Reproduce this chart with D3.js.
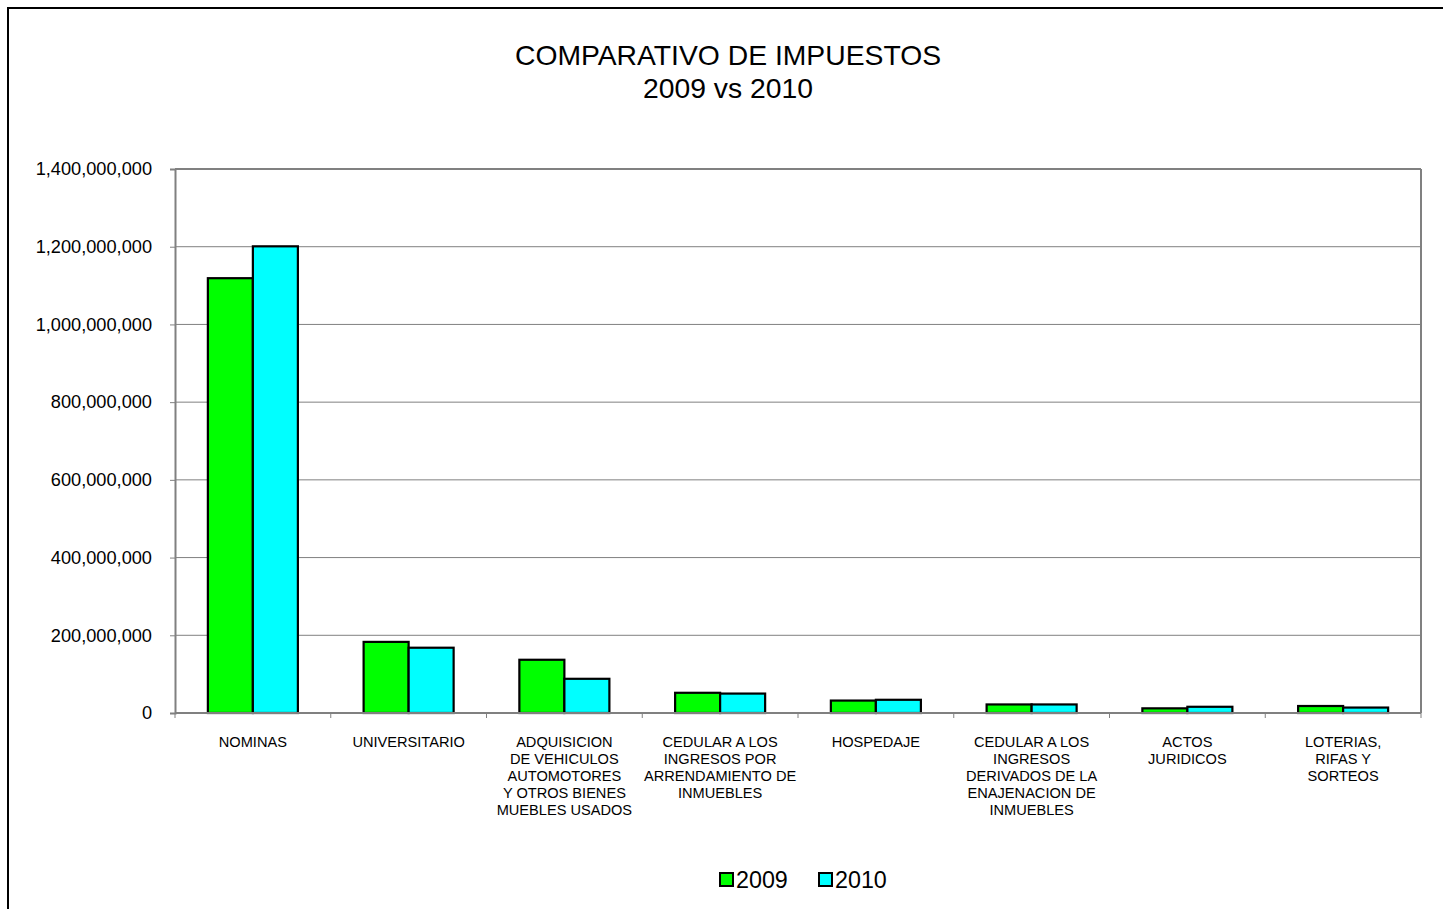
<!DOCTYPE html>
<html><head><meta charset="utf-8">
<script src="https://cdn.jsdelivr.net/npm/d3@7"></script>
<style>body{margin:0;background:#fff;}svg{display:block;font-family:"Liberation Sans",Arial,sans-serif;}</style>
</head><body>
<svg id="c" width="1443" height="909"></svg>
<script>
const categories = [
  ["NOMINAS"],
  ["UNIVERSITARIO"],
  ["ADQUISICION","DE VEHICULOS","AUTOMOTORES","Y OTROS BIENES","MUEBLES USADOS"],
  ["CEDULAR A LOS","INGRESOS POR","ARRENDAMIENTO DE","INMUEBLES"],
  ["HOSPEDAJE"],
  ["CEDULAR A LOS","INGRESOS","DERIVADOS DE LA","ENAJENACION DE","INMUEBLES"],
  ["ACTOS","JURIDICOS"],
  ["LOTERIAS,","RIFAS Y","SORTEOS"]
];
const values2009 = [1119000000, 183000000, 137000000, 52000000, 32000000, 22000000, 12000000, 18000000];
const values2010 = [1201000000, 168000000, 88000000, 50000000, 34000000, 22000000, 16000000, 14000000];
const seriesNames = ["2009","2010"];
const seriesColors = ["#00ff00","#00ffff"];
const yTicks = [0,200000000,400000000,600000000,800000000,1000000000,1200000000,1400000000];

const svg = d3.select("#c");
// outer frame
svg.append("rect").attr("x",8).attr("y",8).attr("width",1460).attr("height",940)
  .attr("fill","none").attr("stroke","#000").attr("stroke-width",2);

const L=175,R=1421,T=169,B=713;
const x = d3.scaleBand().domain(d3.range(categories.length)).range([L,R]).paddingInner(0).paddingOuter(0);
const y = d3.scaleLinear().domain([0,1400000000]).range([B,T]);

// gridlines
svg.append("g").selectAll("line").data(yTicks.slice(1)).join("line")
  .attr("x1",L).attr("x2",R).attr("y1",d=>y(d)).attr("y2",d=>y(d))
  .attr("stroke","#808080").attr("stroke-width",1);
// plot border top/right
svg.append("line").attr("x1",L).attr("x2",R).attr("y1",T).attr("y2",T).attr("stroke","#808080").attr("stroke-width",2);
svg.append("line").attr("x1",R).attr("x2",R).attr("y1",T).attr("y2",B).attr("stroke","#808080").attr("stroke-width",2);

// bars
const data = categories.map((c,i)=>[values2009[i],values2010[i]]);
const bw = x.bandwidth()*0.289;
const off = (x.bandwidth()-2*bw)/2;
const g = svg.append("g");
data.forEach((vals,i)=>{
  vals.forEach((v,j)=>{
    g.append("rect")
      .attr("x", x(i)+off+j*bw).attr("y", y(v))
      .attr("width", bw).attr("height", B-y(v))
      .attr("fill", seriesColors[j]).attr("stroke","#000").attr("stroke-width",2.2);
  });
});

// y axis
const ya = svg.append("g").attr("transform",`translate(${L},0)`)
  .call(d3.axisLeft(y).tickValues(yTicks).tickSize(5).tickPadding(18).tickFormat(d3.format(",")));
ya.select(".domain").attr("stroke","#808080").attr("stroke-width",2);
ya.selectAll(".tick line").attr("stroke","#808080");
ya.selectAll("text").attr("font-size",18.2).attr("fill","#000").attr("font-family","Liberation Sans, Arial, sans-serif");

// x axis
svg.append("line").attr("x1",L).attr("x2",R).attr("y1",B).attr("y2",B).attr("stroke","#808080").attr("stroke-width",2);
svg.append("g").selectAll("line").data(d3.range(categories.length+1)).join("line")
  .attr("x1",d=>L+d*x.bandwidth()).attr("x2",d=>L+d*x.bandwidth())
  .attr("y1",B).attr("y2",B+5).attr("stroke","#808080");
const xl = svg.append("g");
categories.forEach((lines,i)=>{
  const t = xl.append("text").attr("x",x(i)+x.bandwidth()/2).attr("y",747)
    .attr("text-anchor","middle").attr("font-size",14.6).attr("fill","#000");
  lines.forEach((ln,k)=>t.append("tspan").attr("x",x(i)+x.bandwidth()/2).attr("dy",k===0?0:17).text(ln));
});

// title
svg.append("text").attr("x",728).attr("y",65).attr("text-anchor","middle").attr("font-size",28.3).text("COMPARATIVO DE IMPUESTOS");
svg.append("text").attr("x",728).attr("y",98).attr("text-anchor","middle").attr("font-size",28.3).text("2009 vs 2010");

// legend
const lg = svg.append("g");
const lx = [720,819];
seriesNames.forEach((s,j)=>{
  lg.append("rect").attr("x",lx[j]).attr("y",873).attr("width",13).attr("height",13)
    .attr("fill",seriesColors[j]).attr("stroke","#000").attr("stroke-width",2);
  lg.append("text").attr("x",lx[j]+16).attr("y",888).attr("font-size",23.3).text(s);
});
</script>
</body></html>
